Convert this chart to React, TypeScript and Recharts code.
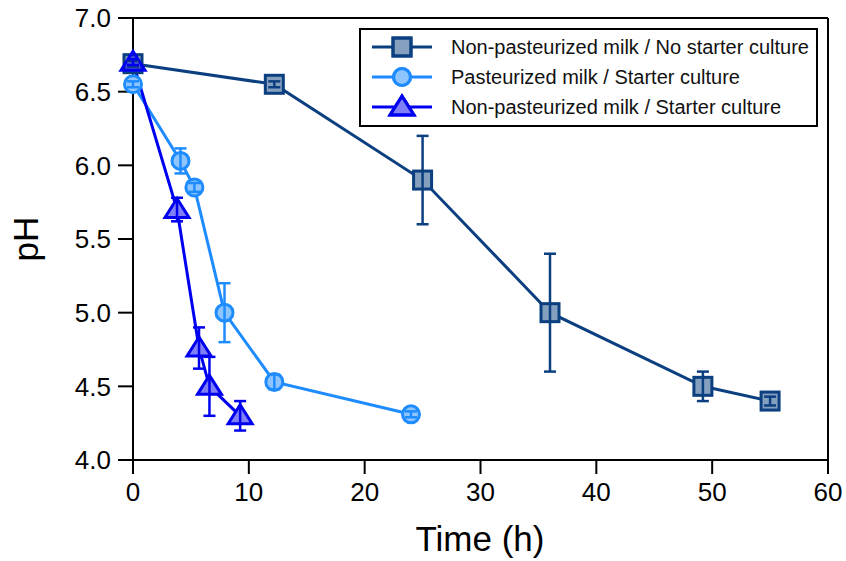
import { LineChart, Line, XAxis, YAxis, ErrorBar, ReferenceLine, Legend } from 'recharts';

// Non-pasteurized milk / No starter culture
const timeNoStarter = [0, 12.2, 25, 36, 49.2, 55];
const phNoStarter = [6.69, 6.55, 5.9, 5.0, 4.5, 4.4];
const errNoStarter = [0.02, 0.02, 0.3, 0.4, 0.1, 0.03];

// Pasteurized milk / Starter culture
const timePastStarter = [0, 4.1, 5.3, 7.9, 12.2, 24];
const phPastStarter = [6.55, 6.03, 5.85, 5.0, 4.53, 4.31];
const errPastStarter = [0.02, 0.085, 0.03, 0.2, 0.05, 0.02];

// Non-pasteurized milk / Starter culture
const timeNonPastStarter = [0, 3.8, 5.7, 6.6, 9.25];
const phNonPastStarter = [6.7, 5.7, 4.76, 4.5, 4.3];
const errNonPastStarter = [0.02, 0.08, 0.14, 0.2, 0.1];

const xTicks = [0, 10, 20, 30, 40, 50, 60];
const yTicks = [4.0, 4.5, 5.0, 5.5, 6.0, 6.5, 7.0];

const FONT = '"Liberation Sans", Arial, Helvetica, sans-serif';

const toRows = (t: number[], ph: number[], err: number[]) =>
  t.map((x, i) => ({ time: x, ph: ph[i], err: err[i] }));

type Shape = 'square' | 'circle' | 'triangle';

const series = [
  { name: 'Non-pasteurized milk / No starter culture', color: '#0b3f7f', shape: 'square' as Shape, data: toRows(timeNoStarter, phNoStarter, errNoStarter) },
  { name: 'Pasteurized milk / Starter culture', color: '#1e8cff', shape: 'circle' as Shape, data: toRows(timePastStarter, phPastStarter, errPastStarter) },
  { name: 'Non-pasteurized milk / Starter culture', color: '#0000f0', shape: 'triangle' as Shape, data: toRows(timeNonPastStarter, phNonPastStarter, errNonPastStarter) },
];

function Marker({ shape, cx, cy, stroke, fill, fillOpacity }: any) {
  if (cx == null || cy == null) return null;
  const common = { stroke, strokeWidth: 3, fill, fillOpacity };
  if (shape === 'square') return <rect x={cx - 9} y={cy - 9} width={18} height={18} {...common} />;
  if (shape === 'circle') return <circle cx={cx} cy={cy} r={8.5} {...common} />;
  return (
    <polygon
      points={`${cx},${cy - 11} ${cx - 12},${cy + 8} ${cx + 12},${cy + 8}`}
      strokeLinejoin="miter"
      {...common}
    />
  );
}

function LegendBox() {
  return (
    <div
      style={{
        width: 455,
        border: '2px solid #000',
        background: '#fff',
        padding: '2px 0 3px 0',
        fontFamily: FONT,
        fontSize: 20,
        color: '#111',
      }}
    >
      {series.map((s) => (
        <div key={s.name} style={{ display: 'flex', alignItems: 'center', height: 30 }}>
          <svg width={90} height={30} style={{ flex: 'none' }}>
            <line x1={11} y1={15} x2={71} y2={15} stroke={s.color} strokeWidth={3} />
            <Marker shape={s.shape} cx={41} cy={15} stroke={s.color} fill="#fff" fillOpacity={1} />
            <Marker shape={s.shape} cx={41} cy={15} stroke={s.color} fill={s.color} fillOpacity={0.5} />
          </svg>
          <span style={{ whiteSpace: 'nowrap' }}>{s.name}</span>
        </div>
      ))}
    </div>
  );
}

const XTitle = () => (
  <text x={480} y={551} textAnchor="middle" fontSize={35} fontFamily={FONT} fill="#000">
    Time (h)
  </text>
);

const YTitle = () => (
  <text x={38} y={239} transform="rotate(-90 38 239)" textAnchor="middle" fontSize={35} fontFamily={FONT} fill="#000">
    pH
  </text>
);

export default function App() {
  return (
    <div style={{ position: 'absolute', left: 0, top: 0, background: '#fff' }}>
      <LineChart width={846} height={561} margin={{ top: 18, right: 18, bottom: 0, left: 0 }}>
        <XAxis
          dataKey="time"
          type="number"
          domain={[0, 60]}
          ticks={xTicks}
          interval={0}
          height={101}
          tickSize={14}
          tickMargin={9}
          axisLine={{ stroke: '#000', strokeWidth: 2 }}
          tickLine={{ stroke: '#000', strokeWidth: 2 }}
          tick={{ fill: '#000', fontSize: 26, fontFamily: FONT }}
          label={<XTitle />}
        />
        <YAxis
          type="number"
          domain={[4, 7]}
          ticks={yTicks}
          interval={0}
          width={133}
          tickSize={15}
          tickMargin={7}
          tickFormatter={(v: number) => v.toFixed(1)}
          axisLine={{ stroke: '#000', strokeWidth: 2 }}
          tickLine={{ stroke: '#000', strokeWidth: 2 }}
          tick={{ fill: '#000', fontSize: 26, fontFamily: FONT }}
          label={<YTitle />}
        />
        <ReferenceLine y={7} stroke="#000" strokeWidth={2} />
        <ReferenceLine x={60} stroke="#000" strokeWidth={2} />
        {series.map((s) => (
          <Line
            key={`line-${s.name}`}
            data={s.data}
            dataKey="ph"
            name={s.name}
            stroke={s.color}
            strokeWidth={3}
            activeDot={false}
            legendType="none"
            isAnimationActive={false}
            dot={(p: any) => (
              <Marker key={`w-${s.name}-${p.index}`} shape={s.shape} cx={p.cx} cy={p.cy} stroke="none" fill="#fff" fillOpacity={1} />
            )}
          />
        ))}
        {series.map((s) => (
          <Line
            key={`marks-${s.name}`}
            data={s.data}
            dataKey="ph"
            name={`${s.name} markers`}
            stroke="none"
            activeDot={false}
            legendType="none"
            isAnimationActive={false}
            dot={(p: any) => (
              <Marker key={`m-${s.name}-${p.index}`} shape={s.shape} cx={p.cx} cy={p.cy} stroke={s.color} fill={s.color} fillOpacity={0.5} />
            )}
          >
            <ErrorBar
              dataKey="err"
              direction="y"
              width={6}
              strokeWidth={2.5}
              stroke={s.color}
              isAnimationActive={false}
              {...({ zIndex: 1100 } as any)}
            />
          </Line>
        ))}
        <Legend
          layout="vertical"
          align="center"
          verticalAlign="middle"
          content={<LegendBox />}
          wrapperStyle={{ position: 'absolute', left: 359, top: 28, width: 459 }}
        />
      </LineChart>
    </div>
  );
}
